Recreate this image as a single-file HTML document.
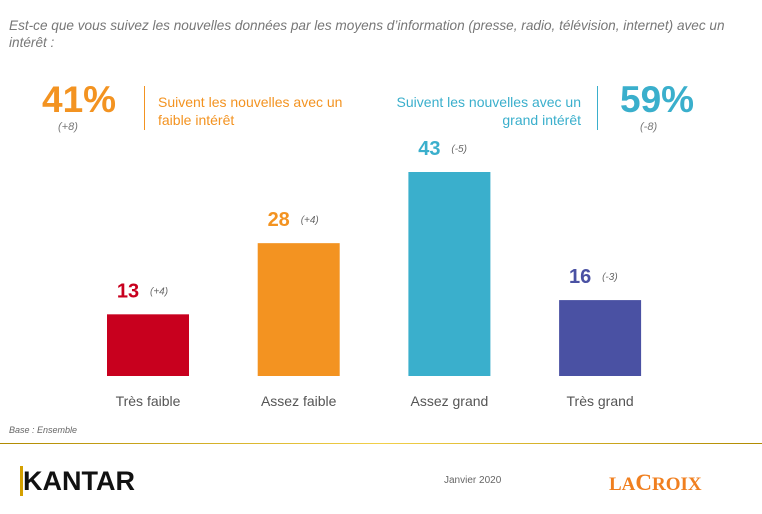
<!DOCTYPE html>
<html><head><meta charset="utf-8"><style>
body{margin:0;width:762px;height:514px;background:#fff;font-family:"Liberation Sans",sans-serif;position:relative;overflow:hidden}
.a{position:absolute;white-space:nowrap}
</style></head><body>
<div class="a" style="left:9px;top:17px;font-size:13.6px;font-style:italic;color:#777;line-height:17px;white-space:normal;width:740px">Est-ce que vous suivez les nouvelles données par les moyens d’information (presse, radio, télévision, internet) avec un intérêt :</div>
<div class="a" style="left:42px;top:80px;font-size:37px;font-weight:bold;color:#f39321;line-height:40px">41%</div>
<div class="a" style="left:58px;top:121px;font-size:11px;font-style:italic;color:#777">(+8)</div>
<div class="a" style="left:144px;top:86px;width:1px;height:44px;background:#f39321"></div>
<div class="a" style="left:158px;top:93px;font-size:14px;color:#f39321;line-height:18px">Suivent les nouvelles avec un<br>faible intérêt</div>
<div class="a" style="left:380px;top:93px;width:201px;text-align:right;font-size:14px;color:#3aafcc;line-height:18px">Suivent les nouvelles avec un<br>grand intérêt</div>
<div class="a" style="left:597px;top:86px;width:1px;height:44px;background:#3aafcc"></div>
<div class="a" style="left:620px;top:80px;font-size:37px;font-weight:bold;color:#3aafcc;line-height:40px">59%</div>
<div class="a" style="left:640px;top:121px;font-size:11px;font-style:italic;color:#777">(-8)</div>
<svg id="chart" class="a" style="left:0;top:0" width="762" height="514"></svg>
<div class="a" style="left:9px;top:425px;font-size:9px;font-style:italic;color:#666">Base : Ensemble</div>
<div class="a" style="left:0;top:443px;width:762px;height:1px;background:linear-gradient(90deg,#b08a00,#f2d04a,#b08a00)"></div>
<div class="a" style="left:20px;top:466px;font-size:27px;font-weight:bold;color:#111;line-height:30px;border-left:3px solid #d4a000">KANTAR</div>
<div class="a" style="left:444px;top:475px;font-size:10px;color:#666">Janvier 2020</div>
<div class="a" style="left:609px;top:470px;font-size:19px;font-weight:bold;color:#f07f1f;font-family:'Liberation Serif',serif">LA<span style="font-size:23px">C</span>ROIX</div>
<script>
const categories=["Très faible","Assez faible","Assez grand","Très grand"];
const values=[13,28,43,16];
const changes=["(+4)","(+4)","(-5)","(-3)"];
const colors=["#c8001e","#f39321","#3aafcc","#4a51a3"];
const svg=document.getElementById('chart');
const NS="http://www.w3.org/2000/svg";
const baseY=376,scale=204/43,x0=107,step=150.7,bw=82;
const y=v=>baseY-v*scale;
function mk(t,a){const e=document.createElementNS(NS,t);for(const k in a)e.setAttribute(k,a[k]);svg.appendChild(e);return e;}
values.forEach((v,i)=>{
 const x=x0+i*step;
 const r=mk('rect',{x:x,y:y(v),width:bw,height:baseY-y(v),fill:colors[i]});
 
 
 const t=mk('text',{x:x+21,y:y(v)-17,'text-anchor':'middle','font-size':20,'font-weight':'bold',fill:colors[i]});
 t.textContent=v;
 
 
 const c=mk('text',{x:x+43,y:y(v)-20,'font-size':10,'font-style':'italic',fill:'#666'});
 c.textContent=changes[i];
 
 
 const l=mk('text',{x:x+bw/2,y:406,'text-anchor':'middle','font-size':14,fill:'#555'});
 l.textContent=categories[i];
 
 
});
</script>
</body></html>
